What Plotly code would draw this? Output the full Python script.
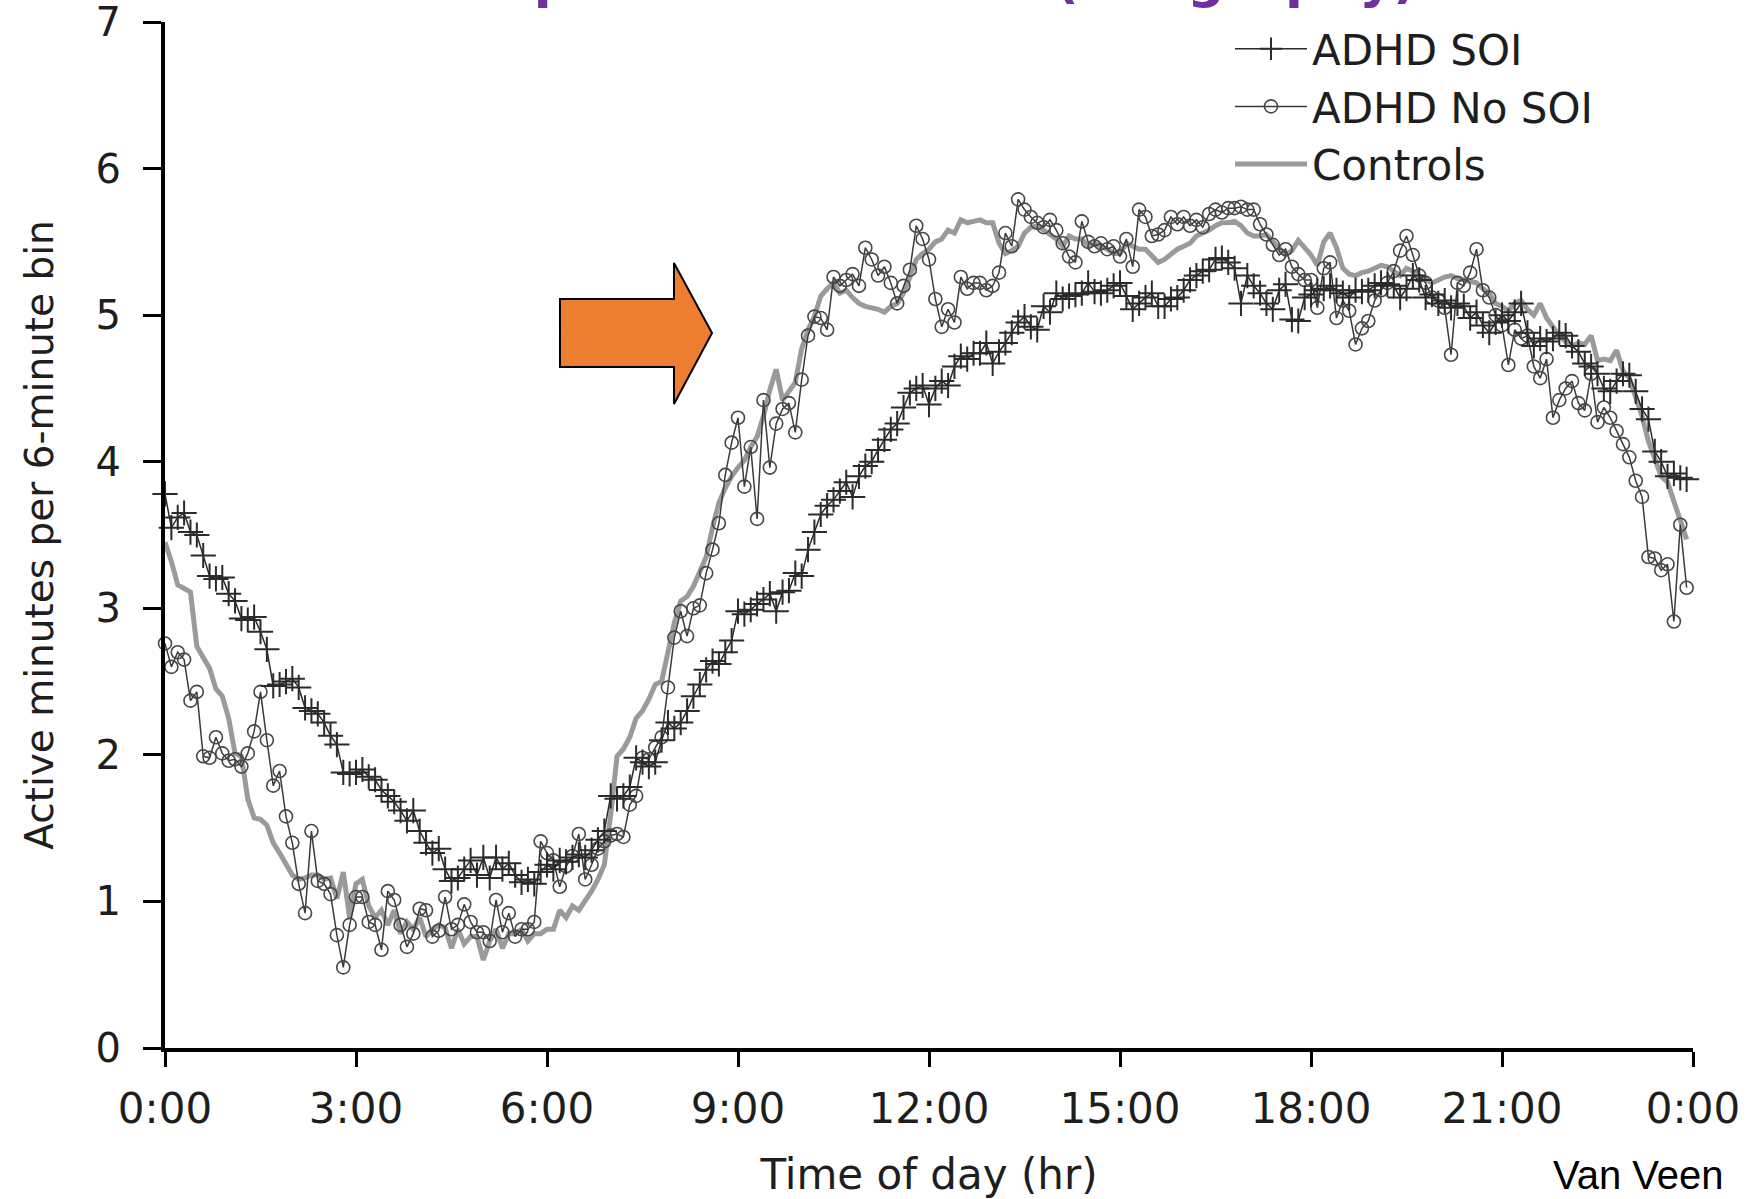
import plotly.graph_objects as go

# activity counts in 6-minute bins over the day (bin start, in hours)
bin_hours = [m / 60 for m in range(0, 1440, 6)]

tick_hours = [0, 3, 6, 9, 12, 15, 18, 21, 24]
tick_labels = ["0:00", "3:00", "6:00", "9:00", "12:00", "15:00", "18:00", "21:00", "0:00"]

# ADHD with sleep onset insomnia
adhd_soi = [
    3.78, 3.55, 3.62, 3.65, 3.52, 3.50, 3.36, 3.22, 3.20, 3.21,
    3.10, 3.05, 2.93, 2.92, 2.94, 2.84, 2.72, 2.47, 2.48, 2.50,
    2.52, 2.46, 2.32, 2.30, 2.28, 2.22, 2.13, 2.07, 1.88, 1.87,
    1.88, 1.90, 1.85, 1.83, 1.76, 1.72, 1.68, 1.62, 1.55, 1.62,
    1.48, 1.40, 1.33, 1.36, 1.22, 1.14, 1.16, 1.22, 1.28, 1.18,
    1.30, 1.16, 1.30, 1.22, 1.26, 1.18, 1.13, 1.15, 1.12, 1.20,
    1.25, 1.22, 1.28, 1.27, 1.30, 1.32, 1.30, 1.35, 1.42, 1.48,
    1.72, 1.70, 1.72, 1.78, 1.98, 1.95, 1.92, 1.95, 2.10, 2.22,
    2.18, 2.22, 2.30, 2.40, 2.48, 2.58, 2.64, 2.62, 2.70, 2.78,
    2.98, 2.96, 2.99, 3.03, 3.06, 3.10, 2.98, 3.11, 3.12, 3.24,
    3.22, 3.40, 3.52, 3.64, 3.70, 3.74, 3.80, 3.86, 3.76, 3.90,
    3.97, 4.00, 4.08, 4.15, 4.22, 4.26, 4.37, 4.47, 4.50, 4.52,
    4.39, 4.50, 4.55, 4.52, 4.65, 4.72, 4.70, 4.74, 4.74, 4.81,
    4.67, 4.75, 4.81, 4.88, 4.95, 4.99, 4.92, 4.90, 5.06, 5.02,
    5.15, 5.11, 5.13, 5.14, 5.15, 5.22, 5.16, 5.15, 5.17, 5.20,
    5.22, 5.13, 5.04, 5.08, 5.12, 5.15, 5.06, 5.06, 5.11, 5.12,
    5.17, 5.24, 5.27, 5.30, 5.31, 5.38, 5.39, 5.36, 5.32, 5.08,
    5.27, 5.20, 5.15, 5.08, 5.04, 5.17, 5.21, 4.97, 4.96, 5.12,
    5.14, 5.17, 5.18, 5.20, 5.17, 5.15, 5.12, 5.17, 5.16, 5.17,
    5.20, 5.22, 5.21, 5.20, 5.12, 5.18, 5.27, 5.24, 5.12, 5.14,
    5.08, 5.10, 5.05, 5.08, 5.06, 4.98, 5.02, 4.93, 4.88, 4.95,
    5.00, 4.96, 5.02, 5.08, 4.88, 4.79, 4.84, 4.82, 4.84, 4.88,
    4.86, 4.79, 4.75, 4.67, 4.65, 4.60, 4.50, 4.48, 4.55, 4.60,
    4.59, 4.48, 4.36, 4.29, 4.07, 4.00, 3.90, 3.92, 3.89, 3.88,
]

# ADHD without sleep onset insomnia
adhd_no_soi = [
    2.76, 2.60, 2.70, 2.65, 2.37, 2.43, 1.99, 1.98, 2.12, 2.01,
    1.96, 1.97, 1.92, 2.01, 2.16, 2.43, 2.10, 1.79, 1.89, 1.58,
    1.40, 1.12, 0.92, 1.48, 1.14, 1.12, 1.05, 0.77, 0.55, 0.84,
    1.03, 1.03, 0.86, 0.84, 0.67, 1.07, 1.01, 0.84, 0.69, 0.78,
    0.95, 0.94, 0.76, 0.80, 1.03, 0.81, 0.84, 0.98, 0.86, 0.79,
    0.79, 0.73, 1.01, 0.79, 0.92, 0.76, 0.81, 0.81, 0.86, 1.41,
    1.33, 1.28, 1.10, 1.24, 1.31, 1.46, 1.15, 1.25, 1.36, 1.41,
    1.45, 1.46, 1.44, 1.66, 1.72, 1.98, 1.97, 2.05, 2.12, 2.46,
    2.80, 2.98, 2.81, 3.00, 3.02, 3.24, 3.40, 3.58, 3.91, 4.13,
    4.30, 3.83, 4.10, 3.61, 4.42, 3.96, 4.26, 4.36, 4.40, 4.20,
    4.56, 4.86, 4.99, 4.98, 4.90, 5.26, 5.20, 5.24, 5.28, 5.20,
    5.46, 5.38, 5.27, 5.33, 5.22, 5.08, 5.20, 5.31, 5.61, 5.52,
    5.38, 5.11, 4.92, 5.04, 4.95, 5.26, 5.18, 5.22, 5.22, 5.17,
    5.20, 5.29, 5.56, 5.47, 5.79, 5.72, 5.67, 5.63, 5.60, 5.65,
    5.58, 5.49, 5.40, 5.36, 5.64, 5.50, 5.47, 5.49, 5.45, 5.47,
    5.40, 5.52, 5.33, 5.72, 5.67, 5.54, 5.55, 5.58, 5.67, 5.62,
    5.67, 5.61, 5.65, 5.60, 5.69, 5.72, 5.70, 5.73, 5.73, 5.74,
    5.72, 5.72, 5.62, 5.55, 5.48, 5.41, 5.45, 5.33, 5.28, 5.24,
    5.24, 5.05, 5.32, 5.36, 4.98, 5.10, 5.03, 4.80, 4.91, 4.96,
    5.10, 5.17, 5.22, 5.30, 5.44, 5.54, 5.41, 5.27, 5.22, 5.12,
    5.10, 5.05, 4.73, 5.22, 5.20, 5.29, 5.45, 5.17, 5.12, 5.00,
    4.93, 4.66, 4.90, 4.84, 4.86, 4.65, 4.57, 4.70, 4.30, 4.42,
    4.50, 4.55, 4.40, 4.35, 4.60, 4.27, 4.37, 4.30, 4.21, 4.12,
    4.03, 3.87, 3.76, 3.35, 3.34, 3.26, 3.30, 2.91, 3.57, 3.14,
]

controls = [
    3.45, 3.32, 3.16, 3.13, 3.11, 2.74, 2.66, 2.59, 2.45, 2.40,
    2.25, 2.01, 1.99, 1.70, 1.57, 1.56, 1.52, 1.40, 1.33, 1.25,
    1.18, 1.15, 1.16, 1.18, 1.18, 1.15, 1.16, 1.02, 1.20, 0.89,
    1.12, 1.15, 0.97, 0.89, 0.94, 0.84, 0.94, 0.78, 0.86, 0.81,
    0.89, 0.76, 0.81, 0.84, 0.82, 0.68, 0.81, 0.71, 0.76, 0.76,
    0.60, 0.73, 0.81, 0.68, 0.78, 0.78, 0.81, 0.73, 0.78, 0.78,
    0.81, 0.81, 0.94, 0.89, 0.97, 0.94, 1.00, 1.07, 1.15, 1.25,
    1.59, 1.99, 2.04, 2.12, 2.25, 2.30, 2.38, 2.48, 2.50, 2.69,
    2.90, 3.05, 3.08, 3.15, 3.25, 3.35, 3.55, 3.72, 3.82, 3.90,
    3.96, 4.01, 4.10, 4.17, 4.31, 4.49, 4.63, 4.42, 4.48, 4.54,
    4.77, 4.90, 4.99, 5.13, 5.18, 5.22, 5.15, 5.17, 5.12, 5.08,
    5.06, 5.05, 5.04, 5.02, 5.06, 5.08, 5.15, 5.26, 5.38, 5.42,
    5.45, 5.50, 5.52, 5.58, 5.56, 5.65, 5.63, 5.64, 5.65, 5.63,
    5.63, 5.49, 5.42, 5.44, 5.47, 5.56, 5.60, 5.61, 5.58, 5.55,
    5.52, 5.47, 5.54, 5.52, 5.52, 5.47, 5.49, 5.47, 5.45, 5.42,
    5.42, 5.49, 5.47, 5.45, 5.45, 5.40, 5.36, 5.38, 5.42, 5.45,
    5.47, 5.49, 5.54, 5.56, 5.58, 5.61, 5.63, 5.63, 5.64, 5.61,
    5.56, 5.54, 5.54, 5.55, 5.50, 5.45, 5.41, 5.44, 5.51, 5.46,
    5.41, 5.34, 5.50, 5.56, 5.46, 5.32, 5.28, 5.27, 5.29, 5.30,
    5.32, 5.34, 5.33, 5.30, 5.27, 5.32, 5.30, 5.27, 5.24, 5.22,
    5.24, 5.26, 5.27, 5.25, 5.24, 5.23, 5.22, 5.18, 5.15, 5.08,
    5.06, 5.03, 5.08, 5.10, 5.04, 5.00, 5.08, 4.98, 4.92, 4.86,
    4.82, 4.79, 4.81, 4.80, 4.86, 4.69, 4.70, 4.69, 4.76, 4.62,
    4.57, 4.45, 4.31, 4.14, 4.02, 3.90, 3.86, 3.73, 3.59, 3.47,
]

# plot area in page pixels
PL, PR, PT, PB = 165, 1693, 22, 1048


def px_x(px):
    return (px - PL) / (PR - PL)


def px_y(py):
    return (PB - py) / (PB - PT)


FONT = "DejaVu Sans"

fig = go.Figure()

fig.add_trace(go.Scatter(
    x=bin_hours, y=controls, mode="lines", name="Controls",
    line=dict(color="#9a9a9a", width=5), legendrank=3,
))
fig.add_trace(go.Scatter(
    x=bin_hours, y=adhd_no_soi, mode="lines+markers", name="ADHD No SOI",
    line=dict(color="#3a3a3a", width=1.5),
    marker=dict(symbol="circle-open", size=13, color="#474747", line=dict(width=1.6, color="#474747")),
    legendrank=2, cliponaxis=False,
))
fig.add_trace(go.Scatter(
    x=bin_hours, y=adhd_soi, mode="lines+markers", name="ADHD SOI",
    line=dict(color="#2b2b2b", width=1.5),
    marker=dict(symbol="cross-thin-open", size=18, color="#2b2b2b", line=dict(width=2, color="#2b2b2b")),
    legendrank=1, cliponaxis=False,
))

# orange arrow pointing at the morning rise
arrow_px = [(560, 299), (674, 299), (674, 263), (712, 333), (674, 404), (674, 367), (560, 367)]
arrow_path = "M " + " L ".join(f"{px_x(x):.4f},{px_y(y):.4f}" for x, y in arrow_px) + " Z"
fig.add_shape(type="path", path=arrow_path, xref="paper", yref="paper",
              fillcolor="#ED7D31", line=dict(color="#000000", width=2), layer="above")

# slide title, pushed up so only its descenders show (as on the slide)
fig.add_annotation(
    text="Sleep onset insomnia (actigraphy)", xref="paper", yref="paper",
    x=px_x(406), y=px_y(11), xanchor="left", yanchor="bottom", showarrow=False,
    font=dict(family=FONT, size=52, color="#7030A0", weight="bold"),
)
fig.add_annotation(
    text="Van Veen", xref="paper", yref="paper",
    x=px_x(1551), y=px_y(1199), xanchor="left", yanchor="bottom", showarrow=False,
    font=dict(family="Liberation Sans", size=40, color="#000000"),
)

fig.update_xaxes(
    range=[0, 24], tickvals=tick_hours, ticktext=tick_labels,
    ticks="outside", ticklen=15, tickwidth=3, tickcolor="#000000",
    showline=True, linewidth=4, linecolor="#000000",
    showgrid=False, zeroline=False, automargin=False,
    ticklabelstandoff=6, ticklabeloverflow="allow",
    tickfont=dict(family=FONT, size=42, color="#1e1e1e"),
    title=dict(text="Time of day (hr)", font=dict(family=FONT, size=42, color="#1e1e1e"), standoff=28),
)
fig.update_yaxes(
    range=[0, 7], tickvals=[0, 1, 2, 3, 4, 5, 6, 7],
    ticks="outside", ticklen=18, tickwidth=3, tickcolor="#000000",
    showline=True, linewidth=4, linecolor="#000000",
    showgrid=False, zeroline=False, automargin=False,
    ticklabelstandoff=14, ticklabeloverflow="allow",
    tickfont=dict(family=FONT, size=40, color="#1e1e1e"),
    title=dict(text="Active minutes per 6-minute bin", font=dict(family=FONT, size=39, color="#1e1e1e"), standoff=31),
)

fig.update_layout(
    width=1757, height=1199,
    margin=dict(l=PL, r=1757 - PR, t=PT, b=1199 - PB),
    paper_bgcolor="white", plot_bgcolor="white",
    showlegend=True,
    legend=dict(x=px_x(1230), y=px_y(15), xanchor="left", yanchor="top", itemwidth=72,
                font=dict(family=FONT, size=42, color="#1e1e1e"),
                bgcolor="rgba(0,0,0,0)", traceorder="normal", tracegroupgap=0),
)

# drop the default 8px page margin so the figure fills the window exactly
fig.write_html(
    "out.html",
    config={"displayModeBar": False},
    post_script="document.body.style.margin='0';document.body.style.overflow='hidden';",
)
